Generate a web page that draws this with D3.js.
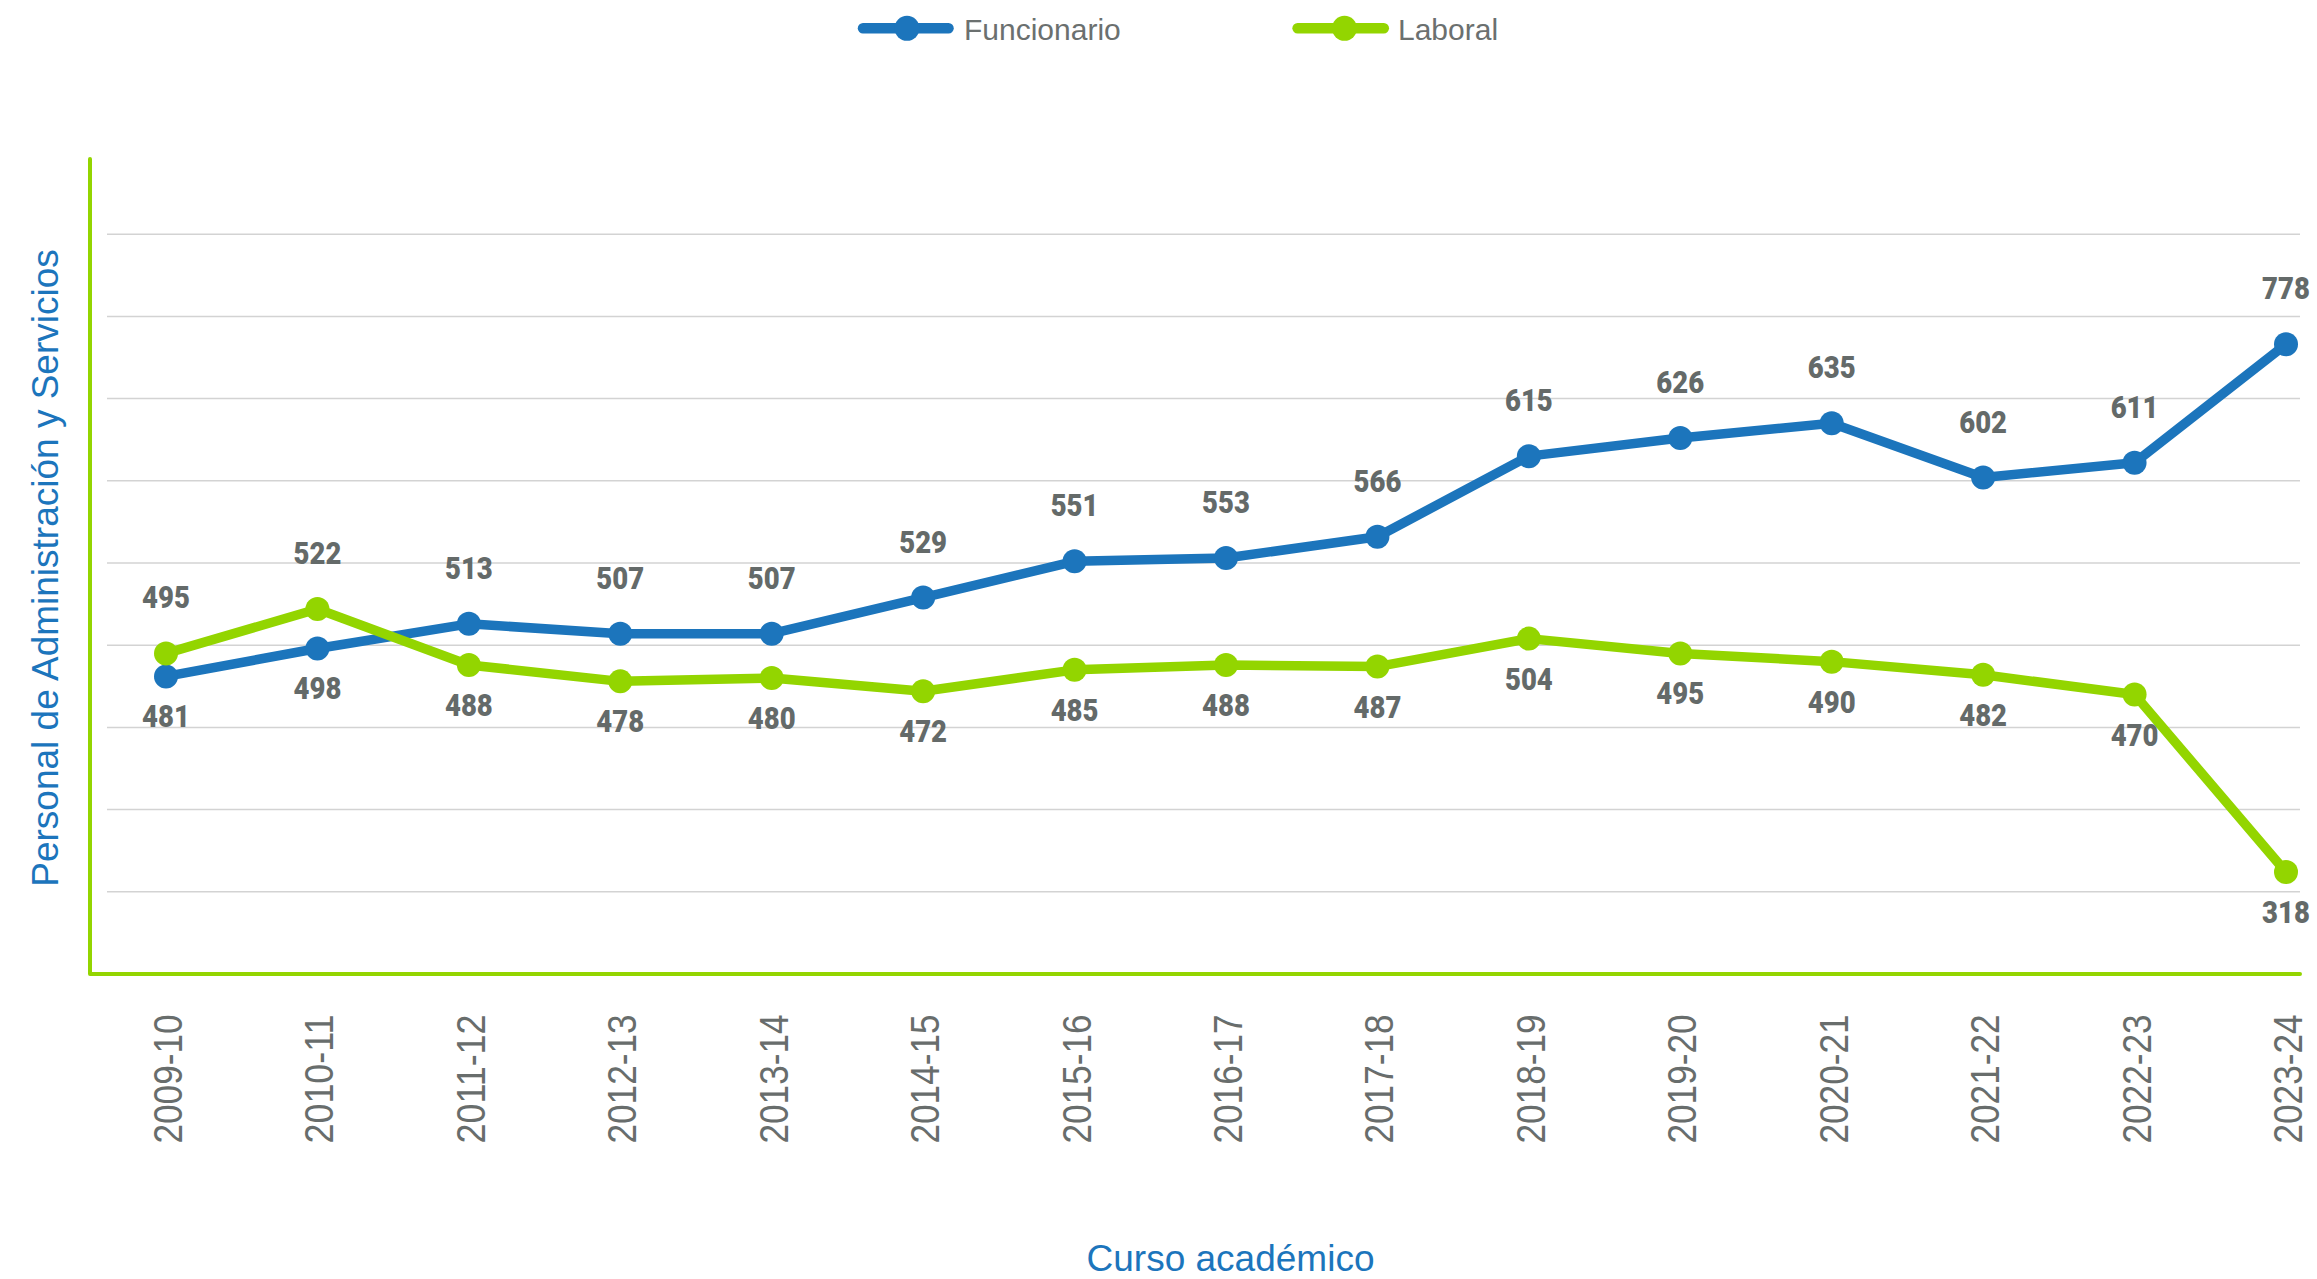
<!DOCTYPE html>
<html><head><meta charset="utf-8">
<script src="https://cdn.jsdelivr.net/npm/d3@7"></script>
<style>html,body{margin:0;padding:0;background:#fff;} svg{display:block;}</style>
</head><body>
<svg id="chart" width="2317" height="1279"></svg>
<script>
// ---- data ----
const categories = ["2009-10","2010-11","2011-12","2012-13","2013-14","2014-15","2015-16","2016-17","2017-18","2018-19","2019-20","2020-21","2021-22","2022-23","2023-24"];
const seriesNames = ["Funcionario", "Laboral"];
// values printed as data labels
const funcionarioLabels = [481,498,513,507,507,529,551,553,566,615,626,635,602,611,778];
const laboralLabels     = [495,522,488,478,480,472,485,488,487,504,495,490,482,470,318];
// heights at which the points are actually drawn in the picture
// (the 2023-24 points sit at a different height than their printed labels)
const funcionarioPlotted = [481,498,513,507,507,529,551,553,566,615,626,635,602,611,683];
const laboralPlotted     = [495,522,488,478,480,472,485,488,487,504,495,490,482,470,362];
const yDomain = [300, 800];
const gridValues = [350,400,450,500,550,600,650,700,750];
const yTitle = "Personal de Administración y Servicios";
const xTitle = "Curso académico";

// ---- layout / style ----
const axisX = 90, axisBottom = 974, axisTop = 159, plotTop = 152, plotRight = 2300, gridLeft = 107;
const colors = {Funcionario: "#1c75bc", Laboral: "#93d500"};
const gray = "#646a69";
const svg = d3.select("#chart");

const x = d3.scalePoint().domain(categories).range([166, 2286]);
const y = d3.scaleLinear().domain(yDomain).range([axisBottom, plotTop]);

// gridlines
svg.append("g").selectAll("line").data(gridValues).join("line")
  .attr("x1", gridLeft).attr("x2", plotRight)
  .attr("y1", d => y(d)).attr("y2", d => y(d))
  .attr("stroke", "#d3d3d3").attr("stroke-width", 1.5);

// axes lines (green)
svg.append("path")
  .attr("d", `M${axisX},${axisTop}L${axisX},${axisBottom}L${plotRight},${axisBottom}`)
  .attr("fill", "none").attr("stroke", "#93d500").attr("stroke-width", 4)
  .attr("stroke-linecap", "round").attr("stroke-linejoin", "round");

// x tick labels
svg.append("g").selectAll("text").data(categories).join("text")
  .attr("transform", d => `translate(${x(d) + 16},1079) rotate(-90)`)
  .attr("text-anchor", "middle")
  .attr("font-family", "'Liberation Sans', Arial, sans-serif")
  .attr("font-size", 41)
  .attr("textLength", 129).attr("lengthAdjust", "spacingAndGlyphs")
  .attr("fill", "#686d6c")
  .text(d => d);

// series
const series = [
  {name: "Funcionario", plotted: funcionarioPlotted, labels: funcionarioLabels, other: laboralPlotted},
  {name: "Laboral", plotted: laboralPlotted, labels: laboralLabels, other: funcionarioPlotted}
];
const line = d3.line().x((d, i) => x(categories[i])).y(d => y(d));

series.forEach(s => {
  const g = svg.append("g");
  g.append("path").datum(s.plotted)
    .attr("d", line).attr("fill", "none")
    .attr("stroke", colors[s.name]).attr("stroke-width", 9.5)
    .attr("stroke-linejoin", "round").attr("stroke-linecap", "round");
  g.selectAll("circle").data(s.plotted).join("circle")
    .attr("cx", (d, i) => x(categories[i])).attr("cy", d => y(d))
    .attr("r", 12).attr("fill", colors[s.name]);
});

// data labels
series.forEach(s => {
  svg.append("g").selectAll("text").data(s.plotted).join("text")
    .attr("transform", (d, i) => {
      const above = d >= s.other[i];
      const ty = above ? y(d) - 45 : y(d) + 51;
      return `translate(${x(categories[i])},${ty}) scale(0.86,1)`;
    })
    .attr("text-anchor", "middle")
    .attr("font-family", "Roboto, 'Liberation Sans', sans-serif")
    .attr("font-weight", 900).attr("font-size", 32)
    .attr("fill", gray)
    .text((d, i) => s.labels[i]);
});

// legend
const legendItems = [
  {name: "Funcionario", x0: 863, x1: 948.5, cx: 907, tx: 964},
  {name: "Laboral", x0: 1297.6, x1: 1383.8, cx: 1344.5, tx: 1398}
];
const lg = svg.append("g");
legendItems.forEach(it => {
  lg.append("line").attr("x1", it.x0).attr("x2", it.x1).attr("y1", 28.3).attr("y2", 28.3)
    .attr("stroke", colors[it.name]).attr("stroke-width", 10.5).attr("stroke-linecap", "round");
  lg.append("circle").attr("cx", it.cx).attr("cy", 28.3).attr("r", 12.5).attr("fill", colors[it.name]);
  lg.append("text").attr("x", it.tx).attr("y", 40)
    .attr("font-family", "'Liberation Sans', Arial, sans-serif").attr("font-size", 30)
    .attr("fill", "#6b706f").text(it.name);
});

// axis titles
svg.append("text")
  .attr("transform", "translate(58,568) rotate(-90)")
  .attr("text-anchor", "middle")
  .attr("font-family", "'Liberation Sans', Arial, sans-serif").attr("font-size", 37)
  .attr("fill", "#1c75bc").text(yTitle);
svg.append("text")
  .attr("x", 1230.5).attr("y", 1271).attr("text-anchor", "middle")
  .attr("font-family", "'Liberation Sans', Arial, sans-serif").attr("font-size", 37)
  .attr("fill", "#1c75bc").text(xTitle);
</script>
</body></html>
